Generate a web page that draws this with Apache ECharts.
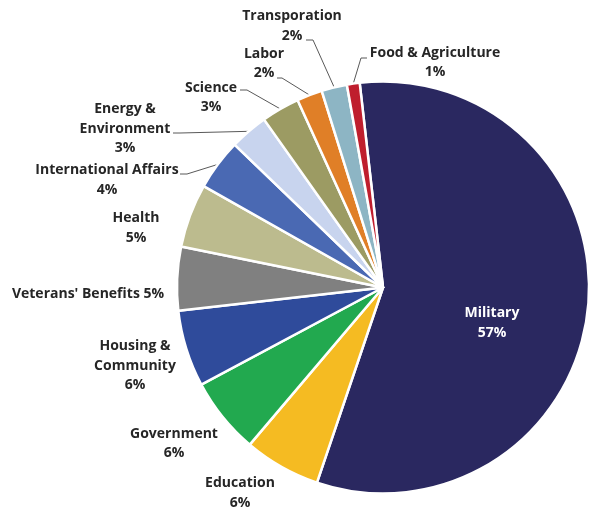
<!DOCTYPE html>
<html>
<head>
<meta charset="utf-8">
<script src="https://cdn.jsdelivr.net/npm/echarts@6/dist/echarts.min.js"></script>
<style>
  html, body { margin: 0; padding: 0; background: #ffffff; }
  #chart { width: 594px; height: 508px; }
</style>
</head>
<body>
<div id="chart"></div>
<script>
// Share of federal discretionary spending by category (percent)
const categories = [
  'Military', 'Education', 'Government', 'Housing &\nCommunity', "Veterans' Benefits",
  'Health', 'International Affairs', 'Energy &\nEnvironment', 'Science', 'Labor',
  'Transporation', 'Food & Agriculture'
];
const shares = [57, 6, 6, 6, 5, 5, 4, 3, 3, 2, 2, 1];
const sliceColors = [
  '#2a2860', '#f5bb22', '#22a94f', '#2f4b9b', '#808080', '#bcbb8e',
  '#4a69b3', '#c8d4ee', '#9c9b63', '#e07f27', '#8db5c4', '#bf1e2d'
];

// Centre of each label block, in pixels
const labelSpots = [
  [492, 323], [240, 493], [174, 443.5], [135, 366], [88, 294], [136, 228],
  [107, 180], [125, 129], [211, 97.5], [264, 63.5], [292, 26], [435, 62.5]
];
// Leader line elbow and label-side end for the small slices
const leaders = {
  6: [[187, 174], [180, 174]],
  7: [[180, 133], [173, 133]],
  8: [[247, 90], [240, 90]],
  9: [[282, 78], [277, 78]],
  10: [[313, 40], [306, 40]],
  11: [[361, 58], [367, 58]]
};

const chart = echarts.init(document.getElementById('chart'), null, { renderer: 'canvas' });

const data = categories.map((name, i) => ({
  name: name,
  value: shares[i],
  itemStyle: { color: sliceColors[i] },
  label: i === 0 ? { position: 'inside', color: '#ffffff' } : {},
  labelLine: { show: !!leaders[i] }
}));

chart.setOption({
  animation: false,
  backgroundColor: '#ffffff',
  series: [{
    type: 'pie',
    center: [383, 287.5],
    radius: 206,
    startAngle: 96.5,
    clockwise: true,
    avoidLabelOverlap: false,
    silent: true,
    itemStyle: { borderColor: '#ffffff', borderWidth: 2.5 },
    label: {
      show: true,
      position: 'outside',
      fontFamily: '"Open Sans", Lato, sans-serif',
      fontWeight: 'bold',
      fontSize: 14,
      lineHeight: 19.5,
      color: '#262626',
      formatter: p => p.dataIndex === 4
        ? p.name + ' ' + p.value + '%'
        : p.name + '\n' + p.value + '%'
    },
    labelLine: {
      lineStyle: { color: '#595959', width: 1 }
    },
    labelLayout: function (p) {
      const i = p.dataIndex;
      const spot = labelSpots[i];
      const out = { x: spot[0], y: spot[1], align: 'center', verticalAlign: 'middle' };
      const lead = leaders[i];
      if (lead && p.labelLinePoints) {
        out.labelLinePoints = [p.labelLinePoints[0], lead[0], lead[1]];
      }
      return out;
    },
    data: data
  }]
});
</script>
</body>
</html>
